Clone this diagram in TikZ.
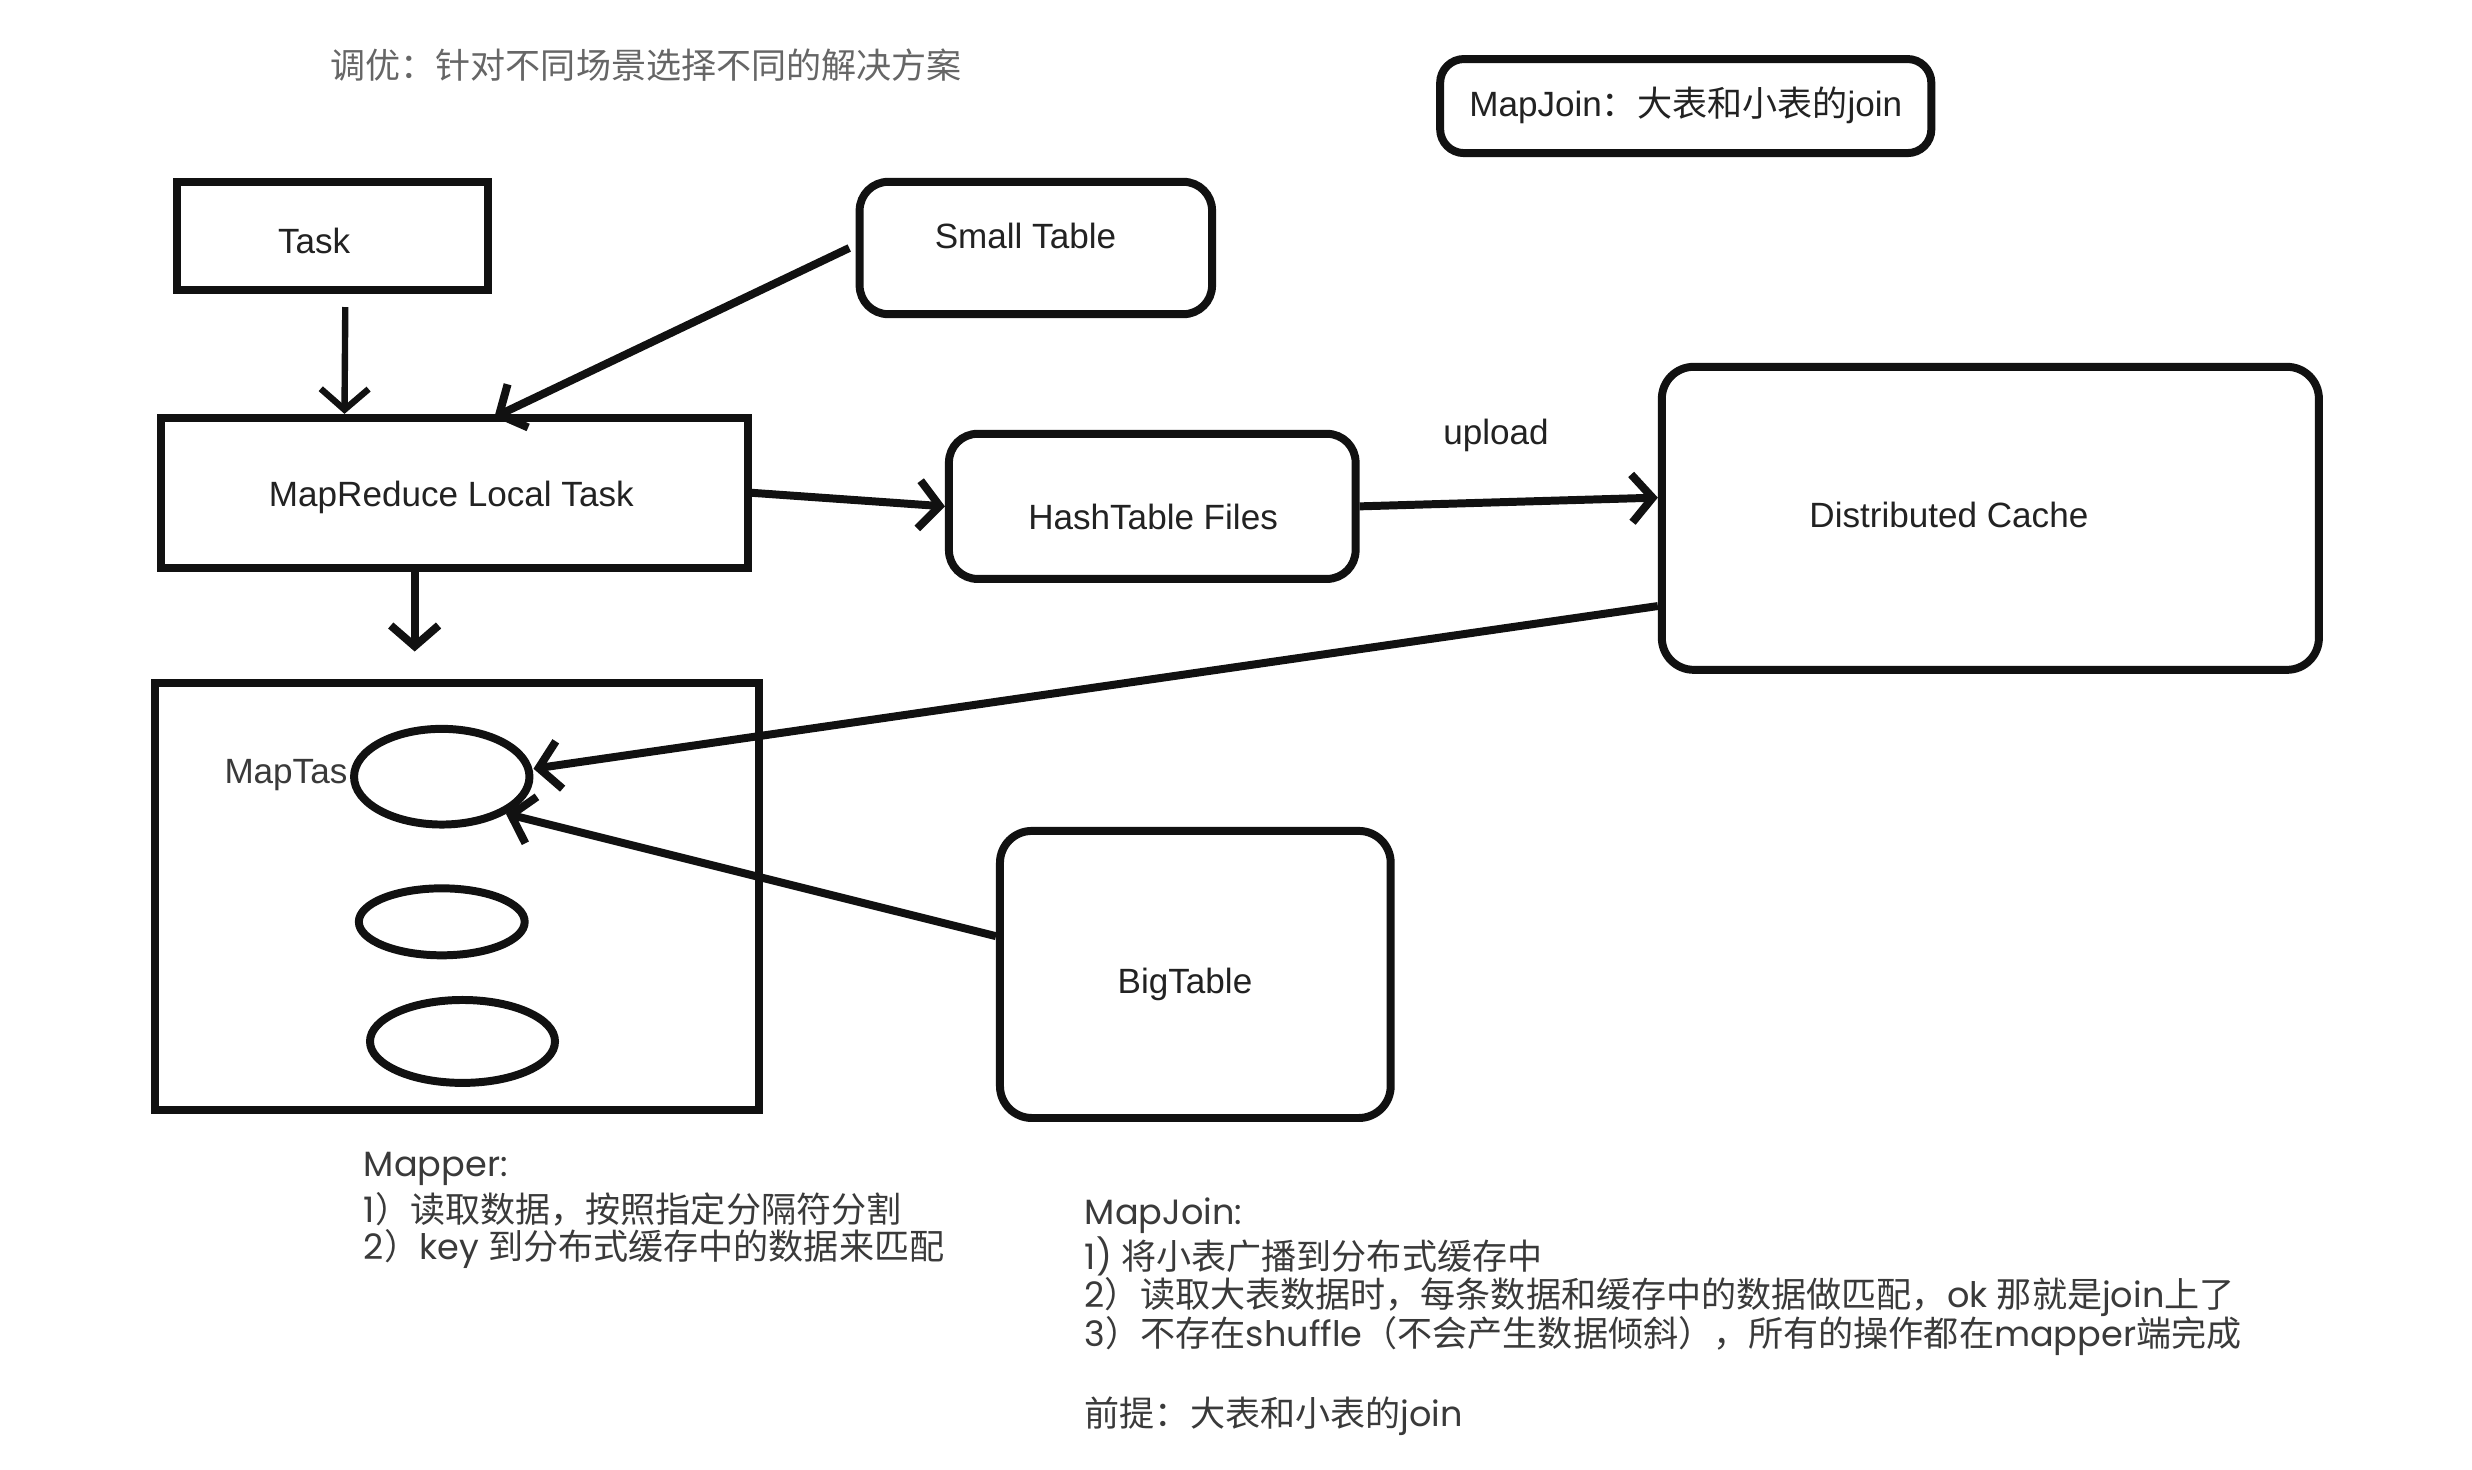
\documentclass[tikz,border=0pt]{standalone}
\usepackage{fontspec}
\setmainfont{Liberation Sans}
\newfontfamily\cjk{Noto Sans CJK SC}
\newfontfamily\notelat{Poppins}
\usetikzlibrary{shapes.geometric,arrows.meta}
\definecolor{ink}{HTML}{111111}
\definecolor{txt}{HTML}{222222}
\definecolor{titlegray}{HTML}{666666}
\definecolor{notegray}{HTML}{3A3A3A}
\begin{document}
\begin{tikzpicture}[x=1pt,y=-1pt,
  box/.style={draw=ink, line width=5pt, rectangle, inner sep=0},
  rbox/.style={box, rounded corners=18pt},
  oval/.style={draw=ink, line width=5pt, ellipse, inner sep=0},
  arr/.style={draw=ink, line width=5pt, -{Straight Barb[length=13pt,width=30pt]}},
  lbl/.style={font=\fontsize{22}{26}\selectfont, text=txt, inner sep=0},
  note/.style={anchor=west, inner sep=0, font=\notelat\fontsize{22}{26}\selectfont, text=notegray}]

\useasboundingbox (0,0) rectangle (1550,921.7);
\fill[white] (0,0) rectangle (1550,921.7);

% title
\node[anchor=west, inner sep=0, font=\cjk\fontsize{22}{26}\selectfont, text=titlegray] (title) at (207,41) {调优：针对不同场景选择不同的解决方案};

% MapJoin box
\node[rbox, rounded corners=15pt, minimum width=308pt, minimum height=59pt] (mj) at (1057,66.5) {};
\node[lbl] (mjL) at (1057,66) {MapJoin{\cjk ：大表和小表的}join};

% boxes
\node[box, minimum width=195pt, minimum height=68pt] (task) at (208.5,148) {};
\node[lbl] (taskL) at (197,151) {Task};

\node[rbox, minimum width=221pt, minimum height=83pt] (small) at (649.5,155.5) {};
\node[lbl] (smallL) at (643,148) {Small Table};

\node[box, minimum width=368pt, minimum height=94pt] (mr) at (285,309) {};
\node[lbl] (mrL) at (283,312) {MapReduce Local Task};

\node[rbox, minimum width=255pt, minimum height=91pt] (hash) at (722.5,317.5) {};
\node[lbl] (hashL) at (723,324) {HashTable Files};

\node[rbox, rounded corners=20pt, minimum width=412pt, minimum height=190pt] (dc) at (1248,325) {};
\node[lbl] (dcL) at (1222,323) {Distributed Cache};

\node[lbl] (up) at (938,273) {upload};

% MapTask container
\node[box, minimum width=379pt, minimum height=268pt] (mt) at (286.5,562) {};
\node[lbl, anchor=east, text=notegray] (mtL) at (218,486) {MapTas};
\node[oval, minimum width=110pt, minimum height=60pt] (e1) at (277,487) {};
\node[oval, minimum width=104pt, minimum height=42pt] (e2) at (277,578) {};
\node[oval, minimum width=116pt, minimum height=52pt] (e3) at (290,653) {};

\node[rbox, rounded corners=20pt, minimum width=245pt, minimum height=180pt] (big) at (749.5,611) {};
\node[lbl] (bigL) at (743,617) {BigTable};

% connectors
\draw[arr, line width=4pt] ([xshift=8pt,yshift=-8pt]task.south) -- ([xshift=-69pt]mr.north);
\draw[arr] ([xshift=-4pt]small.west) -- ([xshift=25pt,yshift=-2pt]mr.north);
\coordinate (mtin) at ([xshift=-26.5pt,yshift=17pt]mt.north);
\draw[arr] ([xshift=-25pt]mr.south) -- (mtin);
\draw[arr] (mr.east) -- (hash.west);
\draw[arr] (hash.east) -- ([yshift=13pt]dc.west);
\draw[arr] ([yshift=-55pt]dc.west) -- ([yshift=5pt]e1.east);
\draw[arr] ([yshift=24pt]big.west) -- (e1.-30);

% notes
\node[note] (n1) at (228,733) {Mapper:};
\node[note] (n2) at (228,758) {1{\cjk ）读取数据，按照指定分隔符分割}};
\node[note] (n3) at (228,783) {2{\cjk ）}key {\cjk 到分布式缓存中的数据来匹配}};

\node[note] (m1) at (680,762) {MapJoin:};
\node[note] (m2) at (680,788) {1) {\cjk 将小表广播到分布式缓存中}};
\node[note] (m3) at (680,813) {2{\cjk ）读取大表数据时，每条数据和缓存中的数据做匹配，}ok {\cjk 那就是}join{\cjk 上了}};
\node[note] (m4) at (680,838) {3{\cjk ）不存在}shuffle{\cjk （不会产生数据倾斜），所有的操作都在}mapper{\cjk 端完成}};
\node[note] (m5) at (680,888) {{\cjk 前提：大表和小表的}join};
\end{tikzpicture}
\end{document}
